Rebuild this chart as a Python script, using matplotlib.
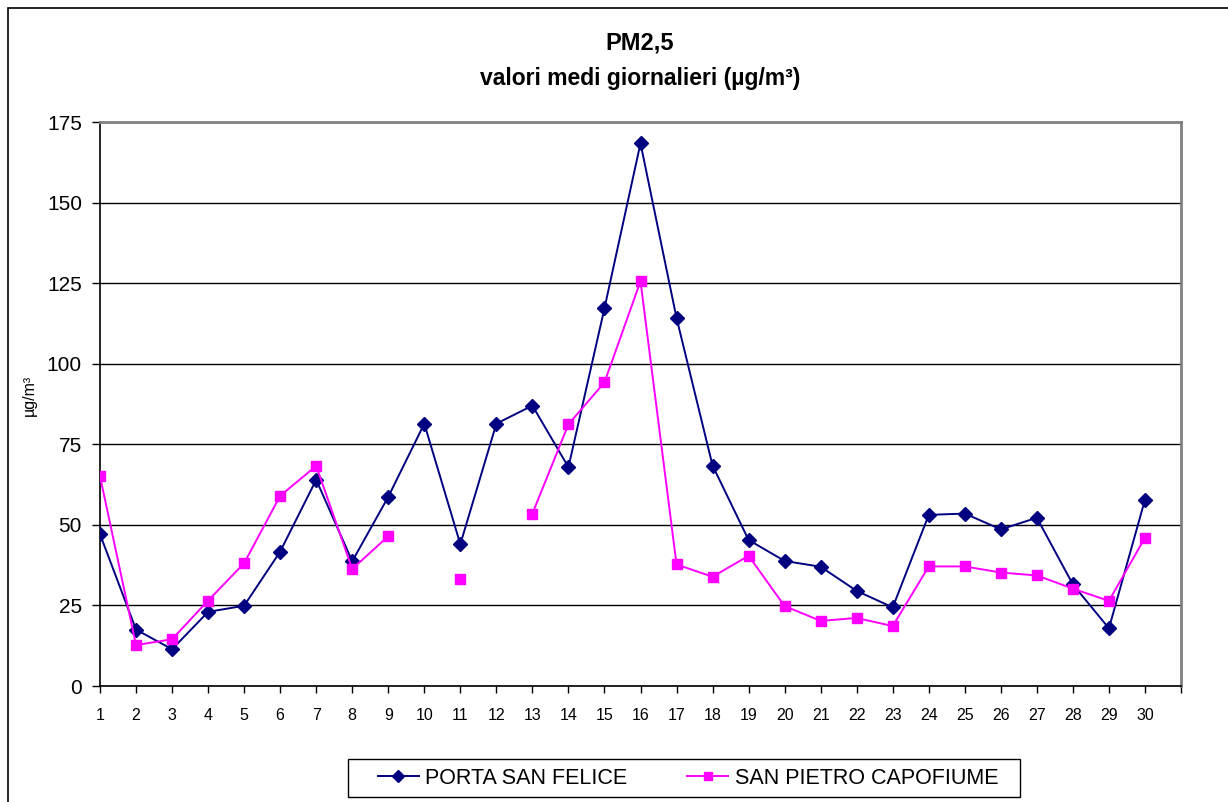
import numpy as np
import matplotlib.pyplot as plt
from matplotlib.patches import Rectangle

plt.rcParams['font.family'] = ['Liberation Sans', 'DejaVu Sans']

days = list(range(1, 31))
porta_san_felice = [47.1, 17.5, 11.4, 23.0, 24.9, 41.7, 64.0, 38.7, 58.7, 81.4,
                    44.0, 81.4, 87.0, 67.9, 117.2, 168.4, 114.2, 68.4, 45.3, 38.8,
                    37.0, 29.5, 24.4, 53.1, 53.5, 48.6, 52.2, 31.5, 17.9, 57.8]
san_pietro = [65.1, 12.7, 14.5, 26.5, 38.1, 59.0, 68.3, 36.3, 46.5, np.nan,
              33.1, np.nan, 53.5, 81.2, 94.2, 125.6, 37.7, 33.9, 40.4, 24.8,
              20.2, 21.1, 18.6, 37.1, 37.1, 35.2, 34.3, 30.2, 26.4, 46.0]
y_ticks = [0, 25, 50, 75, 100, 125, 150, 175]

W, H = 1228, 802
fig = plt.figure(figsize=(W / 100, H / 100), dpi=100)
ax = fig.add_axes([100 / W, 1 - 686 / H, 1081 / W, 564 / H])

# outer chart border (only top and left visible in the crop)
fig.patches.append(Rectangle((8 / W, -0.1), 1.2, 1 - 8 / H + 0.1,
                             transform=fig.transFigure, fill=False,
                             edgecolor='black', lw=1.2))

ax.plot(days, porta_san_felice, color='#000080', marker='D', markersize=7,
        lw=1.4, label='PORTA SAN FELICE', zorder=3)
ax.plot(days, san_pietro, color='#FF00FF', marker='s', markersize=7.5,
        lw=1.4, label='SAN PIETRO CAPOFIUME', zorder=4)

ax.set_xlim(1, 31)
ax.set_ylim(0, 175)
ax.set_yticks(y_ticks)
ax.set_xticks(range(1, 32))
ax.set_xticklabels([str(d) for d in days] + [''])
ax.yaxis.grid(True, color='black', lw=1)
ax.set_axisbelow(True)

for side in ['top', 'right']:
    ax.spines[side].set_color('#808080')
    ax.spines[side].set_linewidth(2)
for side in ['left', 'bottom']:
    ax.spines[side].set_color('black')
    ax.spines[side].set_linewidth(1.2)

ax.tick_params(axis='y', direction='out', length=6, width=1, labelsize=15, pad=7)
ax.tick_params(axis='x', direction='out', length=5, width=1, labelsize=11.5, pad=11)

ax.set_ylabel('µg/m³', fontsize=11.5)
ax.yaxis.set_label_coords(-0.058, 0.516)

fig.text(640 / W, 1 - 43 / H, 'PM2,5', ha='center', va='center',
         fontsize=17, fontweight='bold')
fig.text(640 / W, 1 - 79 / H, 'valori medi giornalieri (µg/m³)',
         ha='center', va='center', fontsize=16.5, fontweight='bold')

# legend box drawn separately so the inner padding matches
fig.patches.append(Rectangle((348 / W, 1 - 797 / H), 672 / W, 38 / H,
                             transform=fig.transFigure, fill=False,
                             edgecolor='black', lw=1))
fig.legend(loc='center', bbox_to_anchor=(688 / W, 1 - 778 / H),
           ncol=2, fontsize=15.5, frameon=False, handlelength=1.9,
           handletextpad=0.3, columnspacing=2.8, markerscale=0.85)

fig.savefig('out.png', dpi=100)
